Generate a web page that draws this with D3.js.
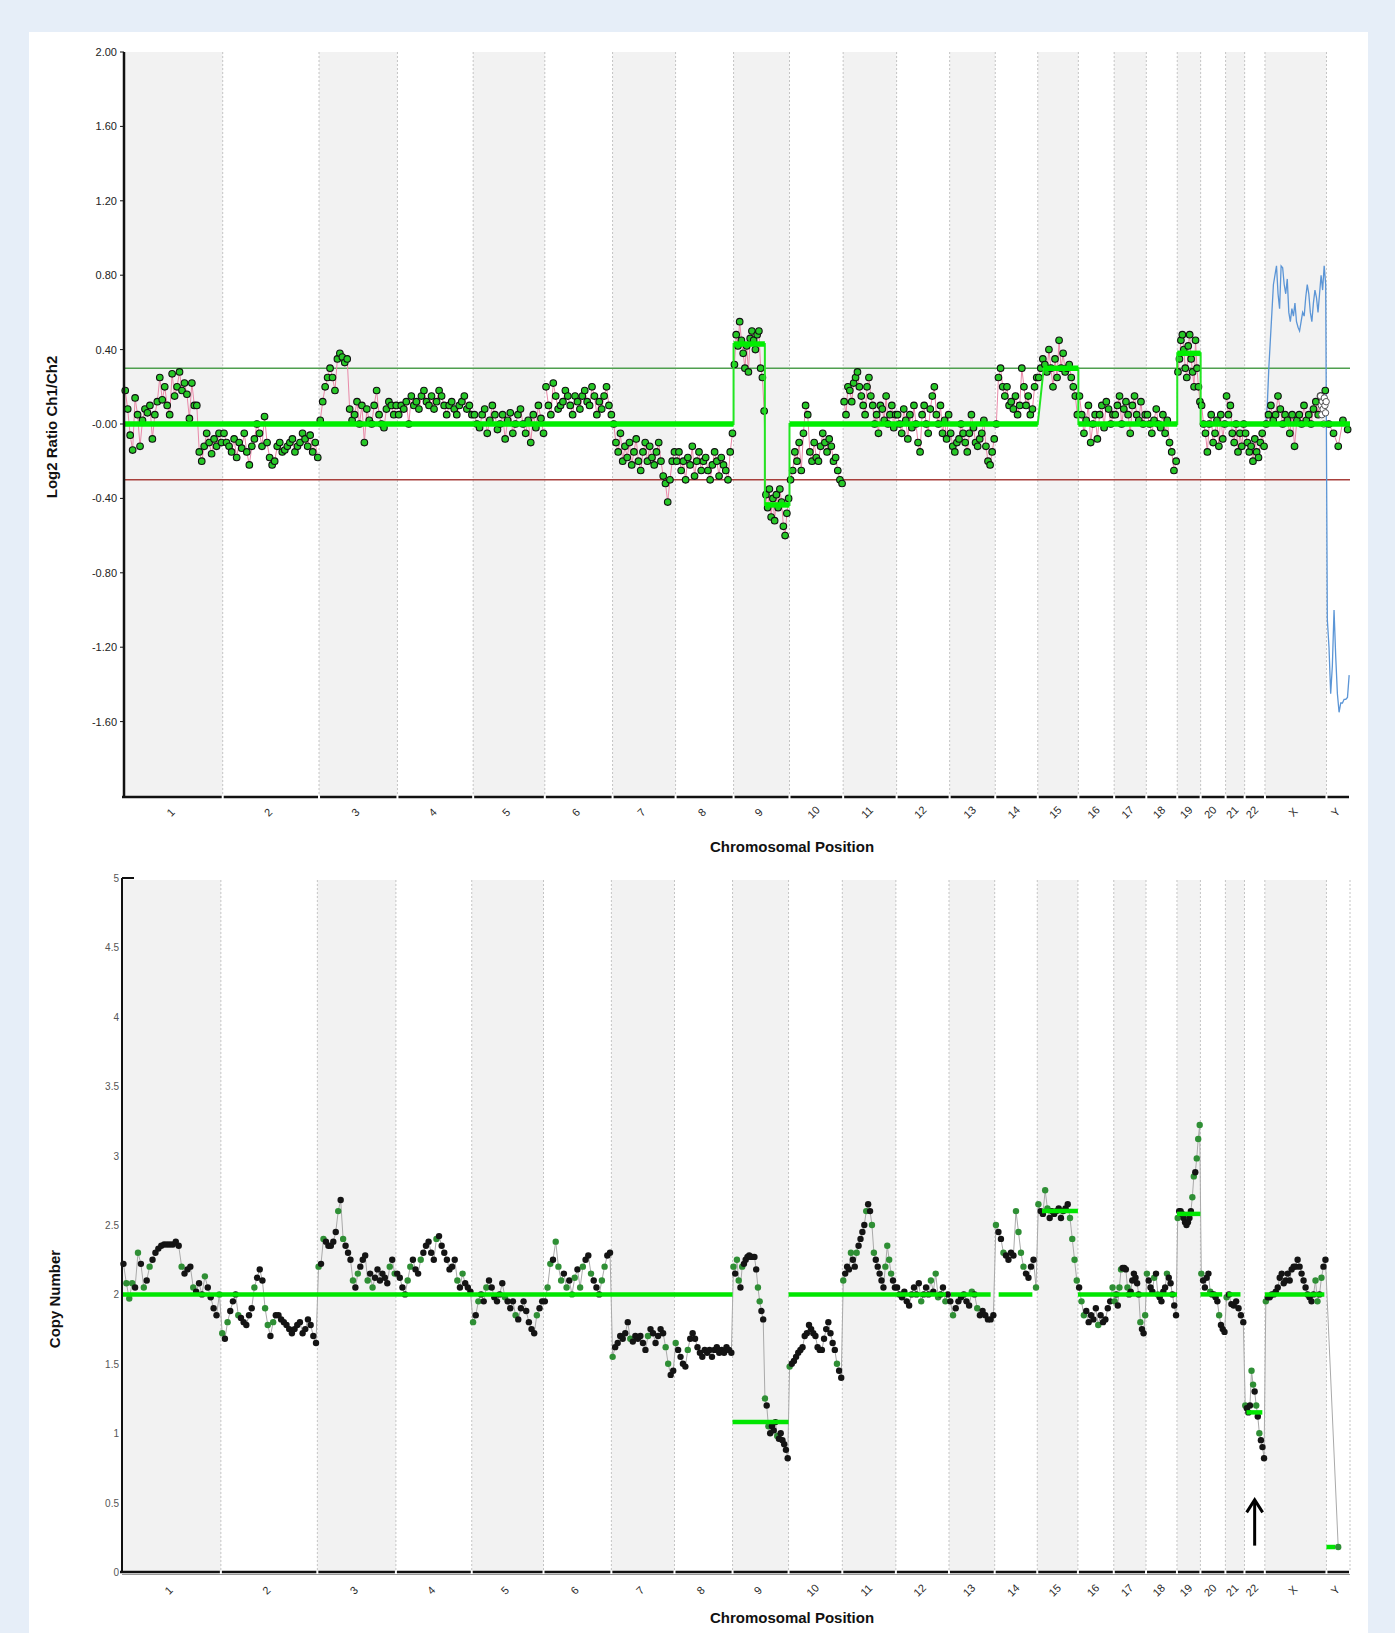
<!DOCTYPE html>
<html>
<head>
<meta charset="utf-8">
<script src="https://cdn.jsdelivr.net/npm/d3@7"></script>
<style>
  body { margin: 0; background: #e6eef8; }
  svg { display: block; font-family: "Liberation Sans", Arial, sans-serif; }
</style>
</head>
<body>
<svg id="chart" width="1395" height="1633"></svg>
<script>
// Chromosomes and lengths (Mb)
const chromosomes = ["1","2","3","4","5","6","7","8","9","10","11","12","13","14","15","16","17","18","19","20","21","22","X","Y"];
const chromLength = [249.25,243.2,198.0,191.2,180.9,171.1,159.1,146.4,141.2,135.5,135.0,133.9,115.2,107.3,102.5,90.4,81.2,78.1,59.1,63.0,48.1,51.3,155.3,59.4];

// Top panel: log2 ratio per chromosome (probes evenly spread along each chromosome)
const log2Values = [
  [0.18,0.08,-0.06,-0.14,0.14,0.05,-0.12,0.02,0.08,0.06,0.1,-0.08,0.05,0.12,0.25,0.13,0.2,0.1,0.05,0.27,0.15,0.2,0.28,0.18,0.22,0.16,0.03,0.22,0.1,0.1,-0.15,-0.2,-0.12,-0.05,-0.1,-0.16,-0.08,-0.12,-0.05,-0.1],
  [-0.05,-0.1,-0.12,-0.15,-0.08,-0.18,-0.1,-0.13,-0.05,-0.15,-0.22,-0.12,-0.08,0.0,-0.05,-0.12,0.04,-0.1,-0.18,-0.22,-0.2,-0.12,-0.1,-0.15,-0.14,-0.12,-0.1,-0.08,-0.15,-0.12,-0.1,-0.05,-0.08,-0.12,-0.06,-0.15,-0.1,-0.18],
  [0.02,0.12,0.2,0.25,0.3,0.25,0.18,0.35,0.38,0.36,0.33,0.35,0.08,0.02,0.05,0.12,0.0,0.1,-0.1,0.08,0.02,0.0,0.1,0.18,0.05,0.0,-0.02,0.08,0.12,0.1,0.05,0.1],
  [0.05,0.1,0.08,0.12,0.0,0.15,0.1,0.12,0.08,0.15,0.18,0.12,0.1,0.15,0.08,0.12,0.18,0.15,0.1,0.05,0.1,0.12,0.08,0.05,0.1,0.12,0.15,0.08,0.1,0.05],
  [0.05,0.0,-0.02,0.05,0.08,-0.05,0.02,0.1,0.05,-0.03,0.0,0.05,-0.08,0.02,0.06,-0.05,0.0,0.05,0.08,0.0,-0.05,0.02,-0.1,0.05,-0.02,0.1,0.03,-0.05],
  [0.2,0.1,0.05,0.22,0.15,0.08,0.1,0.12,0.18,0.15,0.1,0.05,0.15,0.12,0.08,0.15,0.18,0.12,0.1,0.2,0.15,0.05,0.12,0.08,0.15,0.2,0.1,0.05],
  [0.0,-0.1,-0.15,-0.05,-0.2,-0.12,-0.18,-0.1,-0.22,-0.15,-0.08,-0.2,-0.25,-0.15,-0.1,-0.2,-0.12,-0.18,-0.22,-0.15,-0.1,-0.2,-0.28,-0.32,-0.42,-0.3,-0.2,-0.15],
  [-0.2,-0.15,-0.25,-0.2,-0.3,-0.18,-0.22,-0.12,-0.28,-0.2,-0.15,-0.25,-0.2,-0.18,-0.25,-0.3,-0.22,-0.15,-0.2,-0.28,-0.18,-0.22,-0.25,-0.3,-0.15,-0.05],
  [0.32,0.48,0.42,0.55,0.45,0.38,0.3,0.42,0.28,0.46,0.5,0.45,0.4,0.48,0.5,0.3,0.25,0.07,-0.38,-0.45,-0.35,-0.5,-0.4,-0.52,-0.38,-0.45,-0.35,-0.42,-0.55,-0.6,-0.48,-0.4],
  [-0.3,-0.25,-0.15,-0.2,-0.1,-0.25,-0.05,0.1,0.05,-0.15,-0.2,-0.1,-0.18,-0.2,-0.12,-0.05,-0.1,-0.15,-0.08,-0.12,-0.2,-0.18,-0.25,-0.3,-0.32],
  [0.12,0.05,0.2,0.18,0.12,0.22,0.25,0.28,0.2,0.15,0.1,0.05,0.2,0.25,0.15,0.1,0.0,0.05,-0.05,0.1,0.08,0.02,0.15,0.0,0.05,0.1,-0.02,0.05],
  [0.05,0.0,-0.05,0.08,0.02,-0.08,0.05,-0.02,0.1,0.0,-0.1,-0.15,0.05,0.1,0.0,-0.05,0.08,0.15,0.2,0.05,0.0,0.1,-0.05,0.02,-0.08,0.05],
  [-0.05,-0.12,-0.15,-0.1,-0.08,0.0,-0.05,-0.1,-0.15,-0.05,0.05,-0.02,-0.1,-0.12,-0.08,-0.05,0.02,-0.12,-0.2,-0.22,-0.15,-0.08],
  [0.0,0.25,0.3,0.2,0.15,0.2,0.1,0.12,0.08,0.15,0.05,0.1,0.3,0.2,0.1,0.15,0.05,0.08,0.2,0.25],
  [0.25,0.3,0.35,0.32,0.28,0.4,0.3,0.2,0.35,0.25,0.45,0.3,0.38,0.28,0.3,0.32,0.25,0.2,0.15,0.05],
  [0.15,0.05,-0.05,0.02,0.1,-0.1,0.0,0.05,-0.08,0.05,0.1,-0.02,0.12,0.08,0.0,0.05],
  [0.05,0.1,0.15,0.0,0.08,0.12,0.05,-0.05,0.1,0.15,0.05,0.02,0.12,0.0,0.05],
  [0.05,0.0,-0.05,0.02,0.08,0.0,-0.02,0.05,-0.05,0.02,-0.1,-0.15,-0.25,-0.2],
  [0.28,0.35,0.45,0.48,0.4,0.3,0.25,0.42,0.48,0.35,0.28,0.2,0.45,0.3,0.2,0.12],
  [0.1,0.0,-0.05,-0.15,0.0,0.05,-0.1,-0.05,0.02,-0.12,0.05,-0.08,0.0],
  [0.15,0.05,0.1,-0.05,-0.1,0.0,-0.15,-0.05,-0.12,0.0],
  [-0.05,-0.1,-0.15,-0.12,-0.2,-0.08,-0.15,-0.18,-0.1,-0.05,-0.12],
  [0.0,0.05,0.1,0.02,0.05,0.15,0.08,0.0,0.05,0.02,-0.05,0.05,-0.12,0.02,0.05,0.0,0.1,0.02,0.05,0.0,0.08,0.12,0.05,0.15,0.1,0.18],
  [0.0,-0.05,-0.12,0.02,-0.03]
];

// Top panel: second-channel trace on X and Y, and grey probes at the end of X
const log2BlueX = [0.0,0.1,0.3,0.45,0.6,0.75,0.8,0.85,0.7,0.62,0.85,0.84,0.75,0.7,0.78,0.6,0.55,0.62,0.58,0.65,0.55,0.52,0.5,0.55,0.6,0.58,0.68,0.75,0.7,0.6,0.55,0.65,0.72,0.68,0.6,0.7,0.8,0.72,0.85,0.75];
const log2BlueY = [-1.05,-1.2,-1.45,-1.3,-1.0,-1.25,-1.45,-1.55,-1.5,-1.5,-1.48,-1.48,-1.47,-1.35];
const log2WhiteX = [0.15,0.1,0.05,0.12,0.08,0.0,0.14,0.1,0.06,0.12];

// Top panel segmentation
const log2SegStart = ["1:0","9:0","9:79","10:0","15:15","16:0","19:0","20:0"];
const log2SegEnd   = ["8:146.4","9:79","9:141.2","14:107.3","15:102.5","18:78.1","19:59.1","Y:59.4"];
const log2SegValue = [0,0.43,-0.435,0,0.3,0,0.38,0];
const log2Thresholds = [0.3, -0.3];
const log2Ticks = [2.0,1.6,1.2,0.8,0.4,0,-0.4,-0.8,-1.2,-1.6];

// Bottom panel: copy number per chromosome
const copyValues = [
  [2.22,2.08,1.97,2.08,2.05,2.3,2.22,2.05,2.1,2.2,2.25,2.3,2.33,2.35,2.36,2.36,2.36,2.36,2.38,2.35,2.2,2.15,2.18,2.2,2.05,2.02,2.08,2.0,2.13,2.05,1.98,1.9,1.85,2.0],
  [1.72,1.68,1.8,1.88,1.95,2.0,1.85,1.83,1.8,1.78,1.85,1.9,2.05,2.12,2.18,2.1,1.9,1.78,1.7,1.8,1.85,1.85,1.82,1.8,1.78,1.75,1.72,1.75,1.78,1.8,1.72,1.75,1.82,1.78,1.7,1.65],
  [2.2,2.22,2.4,2.38,2.35,2.35,2.38,2.45,2.6,2.68,2.4,2.35,2.3,2.25,2.1,2.05,2.15,2.2,2.25,2.28,2.1,2.15,2.05,2.12,2.18,2.1,2.15,2.12,2.08,2.2,2.25,2.15],
  [2.15,2.12,2.05,2.0,2.1,2.2,2.25,2.18,2.15,2.25,2.3,2.35,2.38,2.3,2.25,2.4,2.42,2.35,2.3,2.25,2.18,2.2,2.25,2.1,2.05,2.15,2.08,2.05,2.02],
  [1.8,1.85,1.95,2.0,1.95,2.05,2.1,2.05,1.98,1.95,2.0,2.08,1.98,1.95,1.9,1.95,1.85,1.82,1.9,1.95,1.88,1.8,1.75,1.72,1.85,1.9,1.95],
  [1.95,2.05,2.22,2.25,2.38,2.2,2.1,2.15,2.05,2.1,2.0,2.12,2.18,2.05,2.2,2.25,2.28,2.15,2.1,2.05,2.0,2.1,2.2,2.28,2.3],
  [1.55,1.62,1.65,1.7,1.68,1.72,1.8,1.68,1.66,1.7,1.68,1.7,1.65,1.6,1.7,1.75,1.72,1.65,1.7,1.75,1.72,1.62,1.5,1.42,1.45],
  [1.65,1.6,1.55,1.5,1.48,1.6,1.68,1.72,1.68,1.62,1.58,1.55,1.6,1.58,1.6,1.55,1.6,1.62,1.58,1.6,1.58,1.62,1.6,1.58],
  [2.2,2.15,2.25,2.1,2.05,2.2,2.22,2.25,2.27,2.28,2.27,2.27,2.27,2.18,2.05,1.95,1.88,1.82,1.25,1.2,1.05,1.0,1.05,1.02,1.08,0.98,0.96,1.0,0.95,0.92,0.88,0.82],
  [1.48,1.5,1.52,1.55,1.58,1.6,1.62,1.7,1.72,1.78,1.75,1.72,1.7,1.62,1.6,1.6,1.68,1.75,1.8,1.72,1.65,1.6,1.5,1.45,1.4],
  [2.1,2.15,2.2,2.18,2.3,2.25,2.2,2.3,2.35,2.4,2.45,2.5,2.6,2.65,2.6,2.5,2.3,2.25,2.2,2.15,2.1,2.05,2.2,2.35,2.25,2.15,2.1,2.05],
  [2.05,2.0,1.98,2.02,1.95,1.92,2.0,2.05,2.0,2.08,1.95,2.0,2.05,2.0,2.1,2.02,2.15,1.98,2.0,2.05,1.95,2.0],
  [1.95,1.85,1.9,1.95,1.98,2.0,1.95,1.92,2.02,2.0,1.9,1.85,1.88,1.85,1.82,1.82,1.85],
  [2.5,2.45,2.4,2.3,2.28,2.25,2.3,2.28,2.6,2.45,2.3,2.2,2.15,2.12,2.2,2.25,2.05],
  [2.65,2.6,2.58,2.75,2.62,2.55,2.6,2.58,2.6,2.62,2.55,2.6,2.62,2.65,2.55,2.4,2.25,2.1],
  [2.05,1.95,1.85,1.88,1.8,1.85,1.82,1.9,1.78,1.85,1.8,1.82,1.9,1.95,2.05],
  [1.95,2.0,1.92,2.05,2.18,2.19,2.19,2.18,2.05,2.0,2.02,2.1,2.15,2.12,2.08,2.0,1.8,1.75,1.72,1.85],
  [2.15,2.1,2.05,2.02,2.12,2.15,2.0,1.98,1.95,2.02,2.05,2.15,2.12,2.08,2.0,1.92,1.85],
  [2.55,2.6,2.6,2.58,2.55,2.52,2.5,2.52,2.55,2.6,2.7,2.85,2.88,2.98,3.12,3.22],
  [2.15,2.1,2.05,2.12,2.15,2.02,2.0,2.0,1.98,1.95,1.85,1.78,1.75,1.73],
  [1.98,2.0,1.93,1.92,1.95,1.9,1.85,1.8],
  [1.2,1.18,1.15,1.2,1.45,1.35,1.3,1.2,1.12,1.0,0.95,0.9,0.82],
  [1.95,1.98,1.98,2.0,2.0,2.02,2.05,2.12,2.15,2.08,2.1,2.15,2.1,2.18,2.2,2.2,2.25,2.2,2.15,2.1,2.05,2.0,1.98,1.95,2.0,2.1,1.95,2.0,2.12,2.2,2.25],
  [0.18]
];

// Bottom panel segmentation
const copySegStart = ["1:0","9:0","10:0","13:5","14:10","15:12","16:0","19:0","20:0","21:5","22:5","X:0","Y:0"];
const copySegEnd   = ["8:146.4","9:141.2","12:126","13:105","14:95","15:102.5","18:78.1","19:59.1","20:55","21:38","22:45","X:150","Y:22"];
const copySegValue = [2,1.08,2,2,2,2.6,2,2.58,2,2,1.15,2,0.18];
const copyTicks = [5,4.5,4,3.5,3,2.5,2,1.5,1,0.5,0];

// Genome layout
const chromStart = [];
let acc = 0;
chromLength.forEach(l => { chromStart.push(acc); acc += l; });
const genomeLength = acc;
const gpos = s => { const [c, p] = s.split(":"); return chromStart[chromosomes.indexOf(c)] + (+p); };

function probes(values) {
  const out = [];
  values.forEach((arr, ci) => {
    arr.forEach((v, i) => out.push({ ci, pos: chromStart[ci] + (i + 0.5) / arr.length * chromLength[ci], v }));
  });
  return out;
}

const svg = d3.select("#chart");
svg.append("rect").attr("x", 29).attr("y", 32).attr("width", 1339).attr("height", 1601).attr("fill", "#fff");

function drawFrame(g, x, top, bottom, endLine) {
  // alternating chromosome bands
  g.selectAll(".band").data(chromosomes.filter((c, i) => i % 2 === 0)).enter().append("rect")
    .attr("x", c => x(chromStart[chromosomes.indexOf(c)]))
    .attr("width", c => x(chromStart[chromosomes.indexOf(c)] + chromLength[chromosomes.indexOf(c)]) - x(chromStart[chromosomes.indexOf(c)]))
    .attr("y", top).attr("height", bottom - top)
    .attr("fill", "#f2f2f2");
  const bounds = chromStart.slice(1).concat(endLine ? [genomeLength] : []);
  g.selectAll(".bound").data(bounds).enter().append("line")
    .attr("x1", d => x(d)).attr("x2", d => x(d))
    .attr("y1", top).attr("y2", bottom)
    .attr("stroke", "#c4c4c4").attr("stroke-width", 1).attr("stroke-dasharray", "2,2");
}

function drawXAxis(g, x, yAxis, labelY, titleY) {
  chromosomes.forEach((c, i) => {
    g.append("line")
      .attr("x1", x(chromStart[i]) + (i ? 1 : -2)).attr("x2", x(chromStart[i] + chromLength[i]) - 1)
      .attr("y1", yAxis).attr("y2", yAxis)
      .attr("stroke", "#111").attr("stroke-width", 2.5);
    const cx = x(chromStart[i] + chromLength[i] / 2);
    g.append("text")
      .attr("transform", `translate(${cx},${labelY}) rotate(-45)`)
      .attr("text-anchor", "middle")
      .attr("font-size", 11).attr("fill", "#2a2a2a")
      .text(c);
  });
  g.append("text")
    .attr("x", 792).attr("y", titleY)
    .attr("text-anchor", "middle")
    .attr("font-size", 15).attr("font-weight", "bold").attr("fill", "#111")
    .text("Chromosomal Position");
}

// ---------- Top panel ----------
const xTop = d3.scaleLinear().domain([0, genomeLength]).range([124, 1350]);
const yTop = d3.scaleLinear().domain([-2, 2]).range([796, 52]);
const gTop = svg.append("g");
drawFrame(gTop, xTop, 52, 796, false);

log2Thresholds.forEach((t, i) => {
  gTop.append("line")
    .attr("x1", xTop(0)).attr("x2", xTop(genomeLength))
    .attr("y1", yTop(t)).attr("y2", yTop(t))
    .attr("stroke", i === 0 ? "#4f9f4f" : "#a8403c").attr("stroke-width", 1.6);
});

const topProbes = probes(log2Values);
const lineTop = d3.line().x(d => xTop(d.pos)).y(d => yTop(d.v));
chromosomes.forEach((c, ci) => {
  gTop.append("path")
    .attr("d", lineTop(topProbes.filter(d => d.ci === ci)))
    .attr("fill", "none").attr("stroke", "#e98aa8").attr("stroke-width", 1);
});

// blue trace on X and Y
const xi = chromosomes.indexOf("X"), yi = chromosomes.indexOf("Y");
const bluePts = log2BlueX.map((v, i) => ({ pos: chromStart[xi] + (i + 0.5) / log2BlueX.length * chromLength[xi], v }))
  .concat(log2BlueY.map((v, i) => ({ pos: chromStart[yi] + (i + 0.5) / log2BlueY.length * chromLength[yi], v })));
gTop.append("path")
  .attr("d", lineTop(bluePts))
  .attr("fill", "none").attr("stroke", "#5b95d6").attr("stroke-width", 1.3);

gTop.selectAll(".pt").data(topProbes).enter().append("circle")
  .attr("cx", d => xTop(d.pos)).attr("cy", d => yTop(d.v))
  .attr("r", 3.3)
  .attr("fill", "#27c827").attr("stroke", "#111").attr("stroke-width", 1.1);

gTop.selectAll(".wpt").data(log2WhiteX).enter().append("circle")
  .attr("cx", (v, i) => xTop(chromStart[xi] + (0.9 + 0.1 * (i + 0.5) / log2WhiteX.length) * chromLength[xi]))
  .attr("cy", v => yTop(v))
  .attr("r", 3.2).attr("fill", "#fff").attr("stroke", "#555").attr("stroke-width", 1);

// segmentation
const topSegs = log2SegValue.map((v, i) => ({ s: gpos(log2SegStart[i]), e: gpos(log2SegEnd[i]), v }));
const stepPts = [];
topSegs.forEach(d => { stepPts.push({ pos: d.s, v: d.v }); stepPts.push({ pos: d.e, v: d.v }); });
gTop.append("path").attr("d", lineTop(stepPts))
  .attr("fill", "none").attr("stroke", "#22e622").attr("stroke-width", 2);
gTop.selectAll(".seg").data(topSegs).enter().append("line")
  .attr("x1", d => xTop(d.s)).attr("x2", d => xTop(d.e))
  .attr("y1", d => yTop(d.v)).attr("y2", d => yTop(d.v))
  .attr("stroke", "#00ee00").attr("stroke-width", 5.5);

// y axis
gTop.append("line").attr("x1", 124).attr("x2", 124).attr("y1", 52).attr("y2", 797)
  .attr("stroke", "#111").attr("stroke-width", 2.5);
log2Ticks.forEach(t => {
  gTop.append("line").attr("x1", 120).attr("x2", 124).attr("y1", yTop(t)).attr("y2", yTop(t))
    .attr("stroke", "#111").attr("stroke-width", 1);
  gTop.append("text").attr("x", 117).attr("y", yTop(t) + 4)
    .attr("text-anchor", "end").attr("font-size", 11).attr("fill", "#222")
    .text(t === 0 ? "-0.00" : t.toFixed(2));
});
gTop.append("text")
  .attr("transform", "translate(57,427) rotate(-90)")
  .attr("text-anchor", "middle")
  .attr("font-size", 15).attr("font-weight", "bold").attr("fill", "#111")
  .text("Log2 Ratio Ch1/Ch2");
drawXAxis(gTop, xTop, 797, 815, 852);

// ---------- Bottom panel ----------
const xBot = d3.scaleLinear().domain([0, genomeLength]).range([122, 1350]);
const yBot = d3.scaleLinear().domain([0, 5]).range([1572, 878]);
const gBot = svg.append("g");
drawFrame(gBot, xBot, 880, 1572, true);

const botProbes = probes(copyValues);
const lineBot = d3.line().x(d => xBot(d.pos)).y(d => yBot(d.v));
gBot.append("path").attr("d", lineBot(botProbes))
  .attr("fill", "none").attr("stroke", "#aaa").attr("stroke-width", 1);

// dark probes, green where the value jumps from the previous probe
gBot.selectAll(".pt").data(botProbes).enter().append("circle")
  .attr("cx", d => xBot(d.pos)).attr("cy", d => yBot(d.v))
  .attr("r", 3.2)
  .attr("fill", (d, i) => {
    const p = botProbes[i - 1];
    return (p && Math.abs(p.v - d.v) > 0.09) ? "#2f8f35" : "#141414";
  });

const botSegs = copySegValue.map((v, i) => ({ s: gpos(copySegStart[i]), e: gpos(copySegEnd[i]), v }));
gBot.selectAll(".seg").data(botSegs).enter().append("line")
  .attr("x1", d => xBot(d.s)).attr("x2", d => xBot(d.e))
  .attr("y1", d => yBot(d.v)).attr("y2", d => yBot(d.v))
  .attr("stroke", "#00e600").attr("stroke-width", 4.5);

// arrow at chromosome 22
const c22 = chromosomes.indexOf("22");
const ax = xBot(chromStart[c22] + chromLength[c22] / 2);
gBot.append("line").attr("x1", ax).attr("x2", ax).attr("y1", yBot(0.19)).attr("y2", yBot(0.5))
  .attr("stroke", "#000").attr("stroke-width", 3);
gBot.append("path")
  .attr("d", `M${ax - 8},${yBot(0.43)} L${ax},${yBot(0.52)} L${ax + 8},${yBot(0.43)}`)
  .attr("fill", "none").attr("stroke", "#000").attr("stroke-width", 3);

// y axis
gBot.append("line").attr("x1", 122).attr("x2", 122).attr("y1", 878).attr("y2", 1573)
  .attr("stroke", "#111").attr("stroke-width", 2);
gBot.append("line").attr("x1", 122).attr("x2", 134).attr("y1", 878).attr("y2", 878)
  .attr("stroke", "#111").attr("stroke-width", 2);
copyTicks.forEach(t => {
  gBot.append("text").attr("x", 119).attr("y", yBot(t) + 4)
    .attr("text-anchor", "end").attr("font-size", 10).attr("fill", "#555")
    .text(t);
});
gBot.append("text")
  .attr("transform", "translate(60,1299) rotate(-90)")
  .attr("text-anchor", "middle")
  .attr("font-size", 15).attr("font-weight", "bold").attr("fill", "#111")
  .text("Copy Number");
gBot.append("line").attr("x1", 122).attr("x2", 1350).attr("y1", 1574.5).attr("y2", 1574.5)
  .attr("stroke", "#999").attr("stroke-width", 1);
drawXAxis(gBot, xBot, 1572, 1593, 1623);
</script>
</body>
</html>
